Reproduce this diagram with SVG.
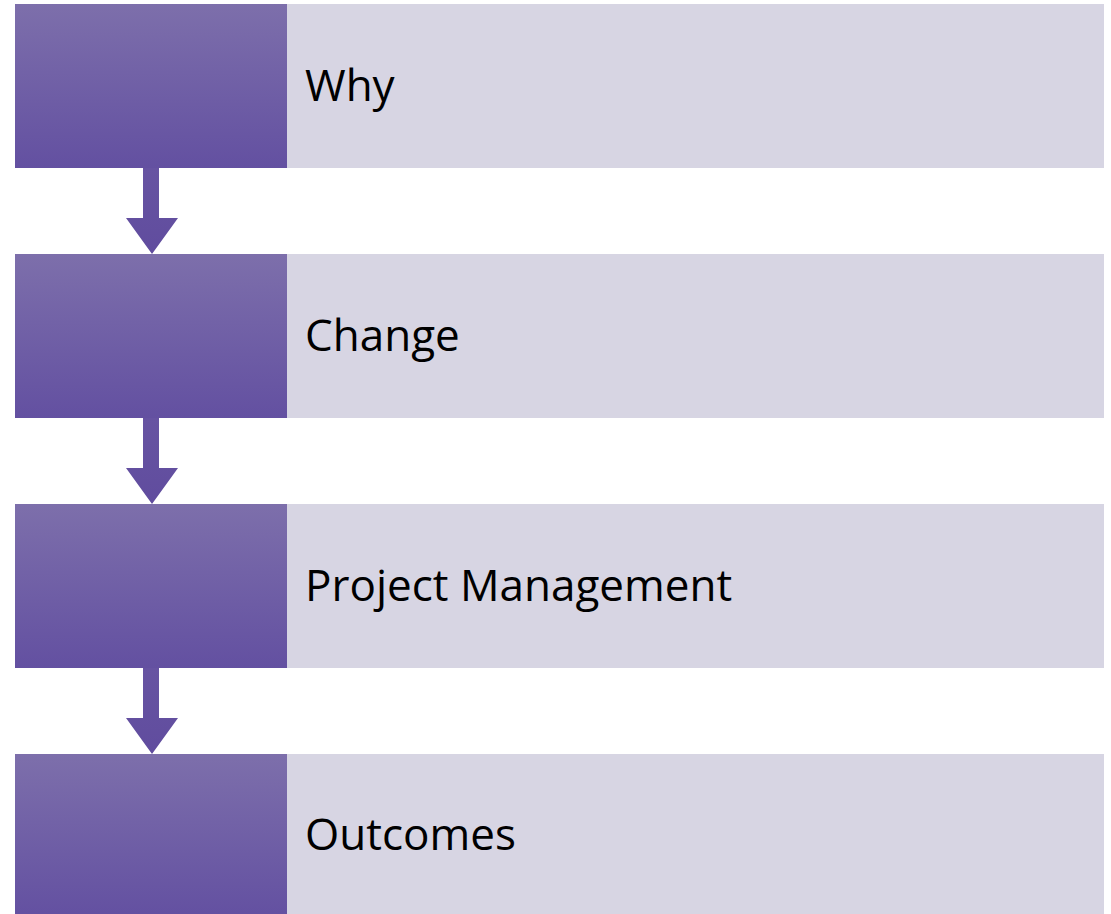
<svg xmlns="http://www.w3.org/2000/svg" width="1111" height="914" viewBox="0 0 1111 914">
<defs>
<linearGradient id="pg" x1="0" y1="0" x2="0" y2="1">
<stop offset="0" stop-color="#7d6fab"/>
<stop offset="1" stop-color="#6350a1"/>
</linearGradient>
<linearGradient id="ag" x1="0" y1="0" x2="0" y2="1">
<stop offset="0" stop-color="#6754a2"/>
<stop offset="1" stop-color="#604c9e"/>
</linearGradient>
</defs>
<style>
.lab{fill:#d7d5e3}
.sq{fill:url(#pg)}
.t{font-family:"Open Sans","Noto Sans",sans-serif;font-size:44px;fill:#000}
.arr{fill:url(#ag)}
</style>
<rect width="1111" height="914" fill="#fff"/>
<g id="node-why">
<rect class="lab" x="287" y="4" width="817" height="164"/>
<rect class="sq" x="15" y="4" width="272" height="164"/>
<text class="t" x="305" y="101">Why</text>
</g>
<g id="node-change">
<rect class="lab" x="287" y="254" width="817" height="164"/>
<rect class="sq" x="15" y="254" width="272" height="164"/>
<text class="t" x="305" y="351">Change</text>
</g>
<g id="node-pm">
<rect class="lab" x="287" y="504" width="817" height="164"/>
<rect class="sq" x="15" y="504" width="272" height="164"/>
<text class="t" x="305" y="601">Project Management</text>
</g>
<g id="node-outcomes">
<rect class="lab" x="287" y="754" width="817" height="164"/>
<rect class="sq" x="15" y="754" width="272" height="164"/>
<text class="t" x="305" y="850">Outcomes</text>
</g>
<g id="connectors">
<path class="arr" d="M143,168 H159 V218 H178 L152,254 L126,218 H143 Z"/>
<path class="arr" d="M143,418 H159 V468 H178 L152,504 L126,468 H143 Z"/>
<path class="arr" d="M143,668 H159 V718 H178 L152,754 L126,718 H143 Z"/>
</g>
</svg>
